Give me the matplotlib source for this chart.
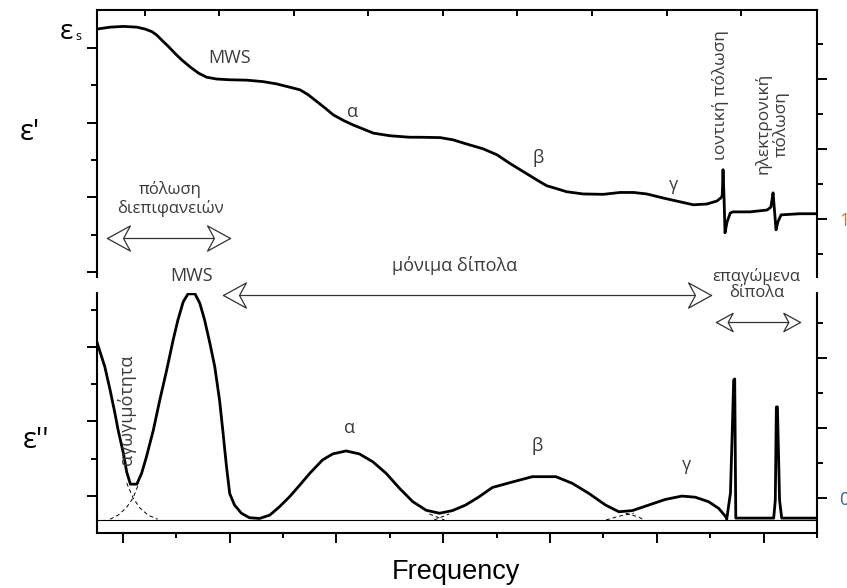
import numpy as np
import matplotlib
matplotlib.use("Agg")
import matplotlib.pyplot as plt
from matplotlib.path import Path

# --- data (log-frequency units, arbitrary permittivity units) ---
# real part eps'
eps1_x = [-0.48, -0.24, 0.01, 0.26, 0.41, 0.54, 0.63, 0.72, 0.85, 0.97, 1.10, 1.25, 1.41, 1.56,
          1.75, 2.0, 2.31, 2.62, 2.87, 3.12, 3.31, 3.46, 3.62, 3.78, 3.93, 4.12, 4.30, 4.49,
          4.68, 4.99, 5.36, 5.55, 5.93, 6.17, 6.42, 6.73, 6.99, 7.23, 7.48, 7.73, 7.92, 8.11,
          8.29, 8.60, 8.98, 9.29, 9.54, 9.79, 10.10, 10.41, 10.66, 10.91, 11.10, 11.17,
          11.20, 11.215, 11.234, 11.252, 11.29, 11.35, 11.40, 11.72, 12.04, 12.11, 12.15,
          12.168, 12.206, 12.24, 12.30, 12.65, 12.97]
eps1_y = [6.51, 6.56, 6.58, 6.56, 6.51, 6.44, 6.35, 6.22, 6.04, 5.86, 5.68, 5.50, 5.33, 5.22,
          5.17, 5.15, 5.14, 5.10, 5.04, 4.95, 4.88, 4.75, 4.57, 4.39, 4.21, 4.06, 3.94, 3.83,
          3.72, 3.65, 3.61, 3.61, 3.60, 3.54, 3.43, 3.30, 3.14, 2.91, 2.69, 2.47, 2.31, 2.23,
          2.15, 2.09, 2.08, 2.13, 2.13, 2.09, 1.98, 1.88, 1.80, 1.82, 1.90, 1.98,
          2.04, 2.74, 1.98, 1.05, 1.34, 1.58, 1.61, 1.61, 1.66, 1.74, 2.12,
          1.80, 1.13, 1.34, 1.53, 1.56, 1.56]

# imaginary part eps''
eps2_x = [-0.49, -0.43, -0.34, -0.24, -0.15, -0.09, 0.01, 0.07, 0.14, 0.26, 0.35, 0.44, 0.57,
          0.69, 0.82, 0.94, 1.03, 1.13, 1.22, 1.35, 1.44, 1.53, 1.63, 1.72, 1.81, 1.87, 1.94,
          2.0, 2.09, 2.22, 2.37, 2.56, 2.75, 2.93, 3.12, 3.31, 3.50, 3.74, 3.93, 4.18, 4.43,
          4.68, 4.93, 5.18, 5.43, 5.68, 5.93, 6.17, 6.42, 6.67, 6.92, 7.30, 7.67, 8.11, 8.42,
          8.73, 9.04, 9.29, 9.54, 9.85, 10.16, 10.47, 10.72, 10.97, 11.16, 11.29,
          11.31, 11.38, 11.42, 11.44, 11.46, 11.48, 11.53, 12.19, 12.22, 12.24, 12.26, 12.30,
          12.34, 12.97]
eps2_y = [4.14, 3.87, 3.47, 2.84, 2.22, 1.77, 1.14, 0.65, 0.32, 0.32, 0.61, 1.05, 1.77,
          2.57, 3.38, 4.18, 4.72, 5.21, 5.42, 5.42, 5.17, 4.72, 4.09, 3.47, 2.57, 1.77, 0.79,
          0.07, -0.24, -0.46, -0.58, -0.60, -0.51, -0.29, -0.02, 0.29, 0.61, 0.97, 1.13, 1.21, 1.13,
          0.92, 0.61, 0.21, -0.15, -0.38, -0.46, -0.39, -0.24, -0.02, 0.23, 0.38, 0.52, 0.52, 0.34,
          0.07, -0.24, -0.42, -0.39, -0.24, -0.09, 0.0, -0.03, -0.15, -0.33, -0.55,
          -0.62, 0.08, 2.04, 3.11, 3.14, -0.59, -0.59, -0.59, -0.11, 2.39, 2.39, -0.11,
          -0.59, -0.59]
baseline = -0.64

# dashed overlapping contributions at the minima
cond_x = [0.07, 0.19, 0.32, 0.47, 0.65]
cond_y = [0.35, -0.05, -0.32, -0.51, -0.62]
mws_x = [-0.24, -0.09, 0.06, 0.19, 0.30]
mws_y = [-0.62, -0.51, -0.32, -0.05, 0.35]
ab_x1, ab_y1 = [5.74, 6.02], [-0.48, -0.64]
ab_x2, ab_y2 = [5.83, 6.11], [-0.64, -0.48]
bg_x1, bg_y1 = [9.05, 9.29, 9.57], [-0.64, -0.54, -0.46]
bg_x2, bg_y2 = [9.42, 9.66, 9.76], [-0.46, -0.56, -0.64]

XMIN, XMAX = -0.486, 12.97
TXT = '#3a3a3a'
plt.rcParams['font.family'] = ['Open Sans', 'DejaVu Sans']

# open dart-like arrow heads (tip at the origin)
head_l = Path([(0, 0), (2.0, 1.1), (1.4, 0), (2.0, -1.1), (0, 0)],
              [Path.MOVETO, Path.LINETO, Path.LINETO, Path.LINETO, Path.CLOSEPOLY])
head_r = Path([(0, 0), (-2.0, 1.1), (-1.4, 0), (-2.0, -1.1), (0, 0)],
              [Path.MOVETO, Path.LINETO, Path.LINETO, Path.LINETO, Path.CLOSEPOLY])

fig = plt.figure(figsize=(8.47, 5.88), dpi=100)
ax1 = fig.add_axes([0.1145, 0.529, 0.850, 0.454])
ax2 = fig.add_axes([0.1145, 0.0935, 0.850, 0.408])

def darrow(ax, x0, x1, y, size=33):
    ax.plot([x0, x1], [y, y], color='#333333', lw=0.9, clip_on=False)
    ax.plot([x0], [y], marker=head_l, ms=size, mfc='white', mec='#333333', mew=0.9,
            clip_on=False, zorder=5)
    ax.plot([x1], [y], marker=head_r, ms=size, mfc='white', mec='#333333', mew=0.9,
            clip_on=False, zorder=5)

#---top panel: eps'---#
ax1.plot(eps1_x, eps1_y, color='black', lw=2.0, solid_joinstyle='round')
ax1.set_xlim(XMIN, XMAX)
ax1.set_ylim(-0.134, 7.02)
ax1.spines['bottom'].set_visible(False)
ax1.spines['right'].set_visible(False)
for s in ['left', 'top']:
    ax1.spines[s].set_linewidth(1.5)
ax1.set_xticks(0.411 + 1.3925*np.arange(9))
ax1.tick_params(axis='x', top=True, bottom=False, direction='in', length=4.5, width=1.4,
                labeltop=False, labelbottom=False)
ax1.set_yticks([0, 2, 4, 6])
ax1.set_yticks([1, 3, 5], minor=True)
ax1.tick_params(axis='y', which='major', direction='out', length=7, width=1.4, labelleft=False)
ax1.tick_params(axis='y', which='minor', direction='out', length=4, width=1.4)

ax1r = ax1.twinx()
ax1r.set_ylim(0.171, 3.986)
for s in ['left', 'top', 'bottom']:
    ax1r.spines[s].set_visible(False)
ax1r.spines['right'].set_linewidth(1.5)
ax1r.set_yticks([1, 2, 3])
ax1r.set_yticklabels(['1', '', ''])
ax1r.set_yticks([0.5, 1.5, 2.5, 3.5], minor=True)
ax1r.tick_params(axis='y', which='major', length=7, width=1.4, pad=9,
                 labelsize=13, labelcolor='#c87a28')
ax1r.tick_params(axis='y', which='minor', length=4, width=1.4)

ax1.text(2.0, 5.74, 'MWS', ha='center', va='center', fontsize=13, color=TXT)
ax1.text(4.30, 4.29, 'α', ha='center', va='center', fontsize=13, color=TXT)
ax1.text(7.76, 3.06, 'β', ha='center', va='center', fontsize=13, color=TXT)
ax1.text(10.28, 2.33, 'γ', ha='center', va='center', fontsize=13, color=TXT)
ax1.text(11.16, 4.75, 'ιοντική πόλωση', rotation=90, ha='center', va='center',
         fontsize=12.5, color=TXT)
ax1.text(12.13, 3.97, 'ηλεκτρονική\nπόλωση', rotation=90, ha='center', va='center',
         fontsize=12.5, color=TXT, linespacing=1.1)
ax1.text(0.88, 1.96, 'πόλωση\nδιεπιφανειών', ha='center', va='center',
         fontsize=12, color=TXT, linespacing=1.15)
darrow(ax1, -0.30, 2.0, 0.91)

#---bottom panel: eps''---#
ax2.plot(eps2_x, eps2_y, color='black', lw=2.0, solid_joinstyle='round')
ax2.axhline(baseline, color='black', lw=0.8)
dash = dict(color='black', lw=0.7, ls=(0, (4, 3)))
ax2.plot(cond_x, cond_y, **dash)
ax2.plot(mws_x, mws_y, **dash)
ax2.plot(ab_x1, ab_y1, **dash)
ax2.plot(ab_x2, ab_y2, **dash)
ax2.plot(bg_x1, bg_y1, **dash)
ax2.plot(bg_x2, bg_y2, **dash)
ax2.set_xlim(XMIN, XMAX)
ax2.set_ylim(-0.99, 5.44)
ax2.spines['top'].set_visible(False)
ax2.spines['right'].set_visible(False)
for s in ['left', 'bottom']:
    ax2.spines[s].set_linewidth(1.5)
ax2.set_xticks(np.arange(0, 13, 2))
ax2.set_xticks(np.arange(1, 14, 2), minor=True)
ax2.tick_params(axis='x', which='major', length=7, width=1.4, labelbottom=False)
ax2.tick_params(axis='x', which='minor', length=3.8, width=1.4)
ax2.set_yticks([0, 2, 4])
ax2.set_yticks([1, 3, 5], minor=True)
ax2.tick_params(axis='y', which='major', length=7, width=1.4, labelleft=False)
ax2.tick_params(axis='y', which='minor', length=4, width=1.4)

ax2r = ax2.twinx()
ax2r.set_ylim(-0.5, 2.929)
for s in ['left', 'top', 'bottom']:
    ax2r.spines[s].set_visible(False)
ax2r.spines['right'].set_linewidth(1.5)
ax2r.set_yticks([0, 1, 2])
ax2r.set_yticklabels(['0', '', ''])
ax2r.set_yticks([0.5, 1.5, 2.5], minor=True)
ax2r.tick_params(axis='y', which='major', length=7, width=1.4, pad=9,
                 labelsize=13, labelcolor='#2a64a8')
ax2r.tick_params(axis='y', which='minor', length=4, width=1.4)

ax2.text(1.29, 5.90, 'MWS', ha='center', va='center', fontsize=13, color=TXT)
ax2.text(6.21, 6.17, 'μόνιμα δίπολα', ha='center', va='center', fontsize=13, color=TXT)
darrow(ax2, 1.87, 11.01, 5.39)
ax2.text(11.87, 5.66, 'επαγώμενα\nδίπολα', ha='center', va='center', fontsize=12,
         color=TXT, linespacing=1.0)
darrow(ax2, 11.10, 12.69, 4.66, size=24)
ax2.text(4.24, 1.82, 'α', ha='center', va='center', fontsize=13, color=TXT)
ax2.text(7.76, 1.34, 'β', ha='center', va='center', fontsize=13, color=TXT)
ax2.text(10.56, 0.83, 'γ', ha='center', va='center', fontsize=13, color=TXT)
ax2.text(0.07, 2.31, 'αγωγιμότητα', rotation=90, ha='center', va='center',
         fontsize=13, color=TXT)

#---axis labels---#
fig.text(0.0354, 0.7755, "ε'", ha='center', va='center', fontsize=21)
fig.text(0.0425, 0.25, "ε''", ha='center', va='center', fontsize=21)
fig.text(0.078, 0.9456, 'ε', ha='center', va='center', fontsize=20)
fig.text(0.0925, 0.938, 's', ha='center', va='center', fontsize=9)
fig.text(0.538, 0.027, 'Frequency', ha='center', va='center', fontsize=19.5,
         family='Liberation Sans')

fig.savefig('out.png', dpi=100)
